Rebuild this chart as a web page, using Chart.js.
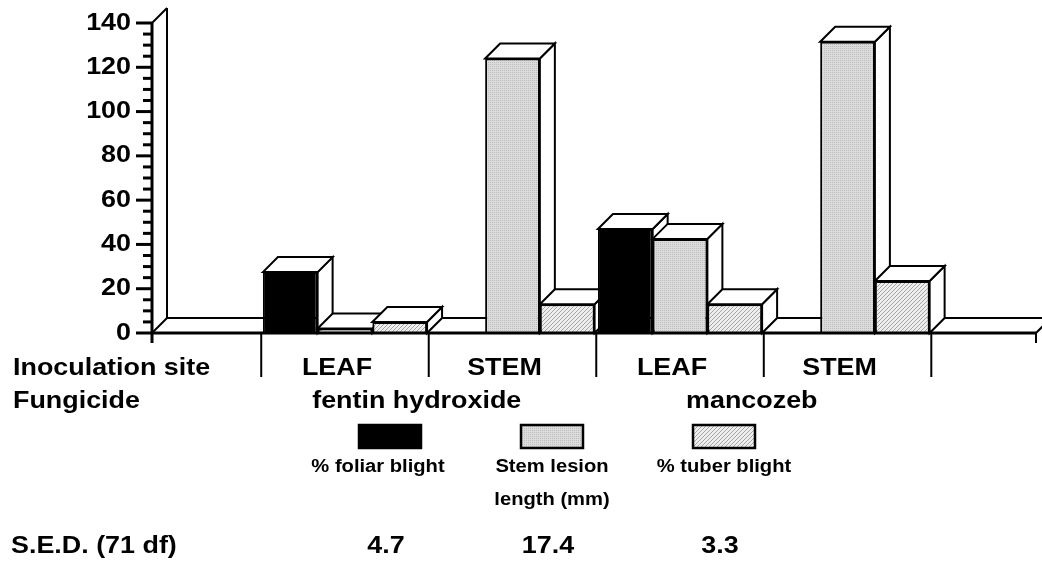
<!DOCTYPE html>
<html>
<head>
<meta charset="utf-8">
<script src="https://cdn.jsdelivr.net/npm/chart.js@4.4.0/dist/chart.umd.min.js"></script>
<style>
    html, body { margin: 0; padding: 0; background: #ffffff; }
    #main { width: 1042px; height: 580px; }
</style>
</head>
<body>
<div id="main"><canvas id="myChartBar" width="1042" height="580"></canvas></div>
<script>
/*** Datos ***/
let categorias = ['LEAF', 'STEM', 'LEAF', 'STEM'];
let fungicidas = ['fentin hydroxide', 'mancozeb'];
let foliarBlight = [27.5, null, 47, null];
let stemLesion = [2, 124, 42.5, 131.5];
let tuberBlight = [5, 13, 13, 23.5];
let leyendas = [['% foliar blight'], ['Stem lesion', 'length (mm)'], ['% tuber blight']];
let sedValores = ['4.7', '17.4', '3.3'];
let yTicks = [0, 20, 40, 60, 80, 100, 120, 140];

const prof = 15;       // profundidad 3D
const estirar = 1.12;  // el texto original esta un poco ensanchado
const fuente = '"Liberation Sans", Arial, sans-serif';

/*** Tramas ***/
function tramaPuntos() {
    let c = document.createElement('canvas');
    c.width = 2; c.height = 2;
    let g = c.getContext('2d');
    g.fillStyle = '#dcdcdc';
    g.fillRect(0, 0, 2, 2);
    g.fillStyle = '#bdbdbd';
    g.fillRect(0, 0, 1, 1);
    return g.createPattern(c, 'repeat');
}
function tramaRayas() {
    let c = document.createElement('canvas');
    c.width = 4; c.height = 4;
    let g = c.getContext('2d');
    g.fillStyle = '#eeeeee';
    g.fillRect(0, 0, 4, 4);
    g.fillStyle = '#a4a4a4';
    for (let i = 0; i < 4; i++) {
        g.fillRect(i, 3 - i, 1, 1);
    }
    return g.createPattern(c, 'repeat');
}

function texto(ctx, str, x, y, size, align) {
    ctx.save();
    ctx.font = 'bold ' + size + 'px ' + fuente;
    ctx.fillStyle = '#000000';
    ctx.textBaseline = 'middle';
    ctx.textAlign = align;
    ctx.translate(x, y);
    ctx.scale(estirar, 1);
    ctx.fillText(str, 0, 0);
    ctx.restore();
}
function linea(ctx, x1, y1, x2, y2) {
    ctx.beginPath();
    ctx.moveTo(x1, y1);
    ctx.lineTo(x2, y2);
    ctx.stroke();
}
function poligono(ctx, pts) {
    ctx.beginPath();
    ctx.moveTo(pts[0][0], pts[0][1]);
    for (let i = 1; i < pts.length; i++) ctx.lineTo(pts[i][0], pts[i][1]);
    ctx.closePath();
    ctx.fillStyle = '#ffffff';
    ctx.fill();
    ctx.stroke();
}

/*** Plugin para las caras 3D, ejes y textos ***/
const caja3d = {
    id: 'caja3d',
    beforeDatasetsDraw(chart) {
        const { ctx, chartArea: a } = chart;
        ctx.save();
        ctx.strokeStyle = '#000000';
        ctx.lineWidth = 2;
        ctx.lineJoin = 'miter';
        // pared izquierda y piso (fondo)
        linea(ctx, a.left + prof, a.top - prof, a.left + prof, a.bottom - prof);
        linea(ctx, a.left, a.top, a.left + prof, a.top - prof);
        linea(ctx, a.left, a.bottom, a.left + prof, a.bottom - prof);
        linea(ctx, a.left + prof, a.bottom - prof, a.right + prof, a.bottom - prof);
        linea(ctx, a.right, a.bottom, a.right + prof, a.bottom - prof);

        // caras superior y lateral, de izquierda a derecha
        let barras = [];
        chart.data.datasets.forEach(function (ds, di) {
            chart.getDatasetMeta(di).data.forEach(function (bar, i) {
                if (ds.data[i].y === null) return;
                barras.push(bar.getProps(['x', 'y', 'base', 'width'], true));
            });
        });
        barras.sort(function (p, q) { return p.x - q.x; });
        barras.forEach(function (b) {
            let l = b.x - b.width / 2, r = b.x + b.width / 2, t = b.y, bo = b.base;
            poligono(ctx, [[r, t], [r + prof, t - prof], [r + prof, bo - prof], [r, bo]]);
            poligono(ctx, [[l, t], [l + prof, t - prof], [r + prof, t - prof], [r, t]]);
        });
        ctx.restore();
    },
    afterDatasetsDraw(chart) {
        const { ctx, chartArea: a, scales: { x, y } } = chart;
        ctx.save();
        ctx.strokeStyle = '#000000';
        ctx.lineCap = 'butt';

        // eje Y
        ctx.lineWidth = 3;
        linea(ctx, a.left, a.top, a.left, a.bottom + 10);
        for (let v = 0; v <= 140; v += 5) {
            let py = y.getPixelForValue(v);
            let mayor = yTicks.indexOf(v) >= 0;
            linea(ctx, a.left - (mayor ? 16 : 9), py, a.left, py);
        }
        yTicks.forEach(function (v) {
            texto(ctx, String(v), a.left - 21, y.getPixelForValue(v), 24, 'right');
        });

        // eje X (frente)
        ctx.lineWidth = 3;
        linea(ctx, a.left, a.bottom, a.right, a.bottom);
        ctx.lineWidth = 2;
        linea(ctx, a.right, a.bottom, a.right, a.bottom + 10);
        for (let i = 0; i <= categorias.length; i++) {
            let px = x.getPixelForValue(i - 0.5);
            linea(ctx, px, a.bottom, px, a.bottom + 44);
        }

        // etiquetas de categorias
        texto(ctx, 'Inoculation site', 13, a.bottom + 35, 24, 'left');
        texto(ctx, 'Fungicide', 13, a.bottom + 68, 24, 'left');
        categorias.forEach(function (c, i) {
            texto(ctx, c, x.getPixelForValue(i) - 8, a.bottom + 35, 24, 'center');
        });
        fungicidas.forEach(function (f, k) {
            let px = (x.getPixelForValue(2 * k) + x.getPixelForValue(2 * k + 1)) / 2;
            texto(ctx, f, px - 12, a.bottom + 68, 24, 'center');
        });

        // leyenda
        let colX = [390, 552, 724];
        chart.data.datasets.forEach(function (ds, di) {
            ctx.fillStyle = ds.backgroundColor;
            ctx.lineWidth = 2.5;
            ctx.fillRect(colX[di] - 31, 425, 62, 23);
            ctx.strokeRect(colX[di] - 31, 425, 62, 23);
            leyendas[di].forEach(function (t, j) {
                texto(ctx, t, colX[di] - (di === 0 ? 12 : 0), 467 + j * 33, 18, 'center');
            });
        });

        // S.E.D.
        texto(ctx, 'S.E.D. (71 df)', 11, 546, 24, 'left');
        sedValores.forEach(function (s, di) {
            texto(ctx, s, colX[di] - 4, 546, 24, 'center');
        });
        ctx.restore();
    }
};

function renderGraph(el) {
    let ctx = document.getElementById(el).getContext('2d');
    let puntos = function (arr) {
        return arr.map(function (v, i) { return { x: i, y: v }; });
    };
    let datasets = [
        { label: leyendas[0].join(' '), data: puntos(foliarBlight), backgroundColor: '#000000' },
        { label: leyendas[1].join(' '), data: puntos(stemLesion), backgroundColor: tramaPuntos() },
        { label: leyendas[2].join(' '), data: puntos(tuberBlight), backgroundColor: tramaRayas() }
    ];
    datasets.forEach(function (d) {
        d.borderColor = '#000000';
        d.borderWidth = 2;
        d.categoryPercentage = 0.98;
        d.barPercentage = 1;
    });
    return new Chart(ctx, {
        type: 'bar',
        data: { datasets: datasets },
        options: {
            responsive: false,
            animation: false,
            layout: { padding: { left: 152, right: 6, top: 23, bottom: 247 } },
            plugins: { legend: { display: false }, tooltip: { enabled: false } },
            scales: {
                x: {
                    type: 'linear', min: -1.152, max: 4.125, display: false,
                    offset: false,
                    grid: { offset: false },
                    afterBuildTicks: function (s) {
                        s.ticks = categorias.map(function (c, i) { return { value: i }; });
                    }
                },
                y: { min: 0, max: 140, display: false }
            }
        },
        plugins: [caja3d]
    });
}

renderGraph('myChartBar');
</script>
</body>
</html>
